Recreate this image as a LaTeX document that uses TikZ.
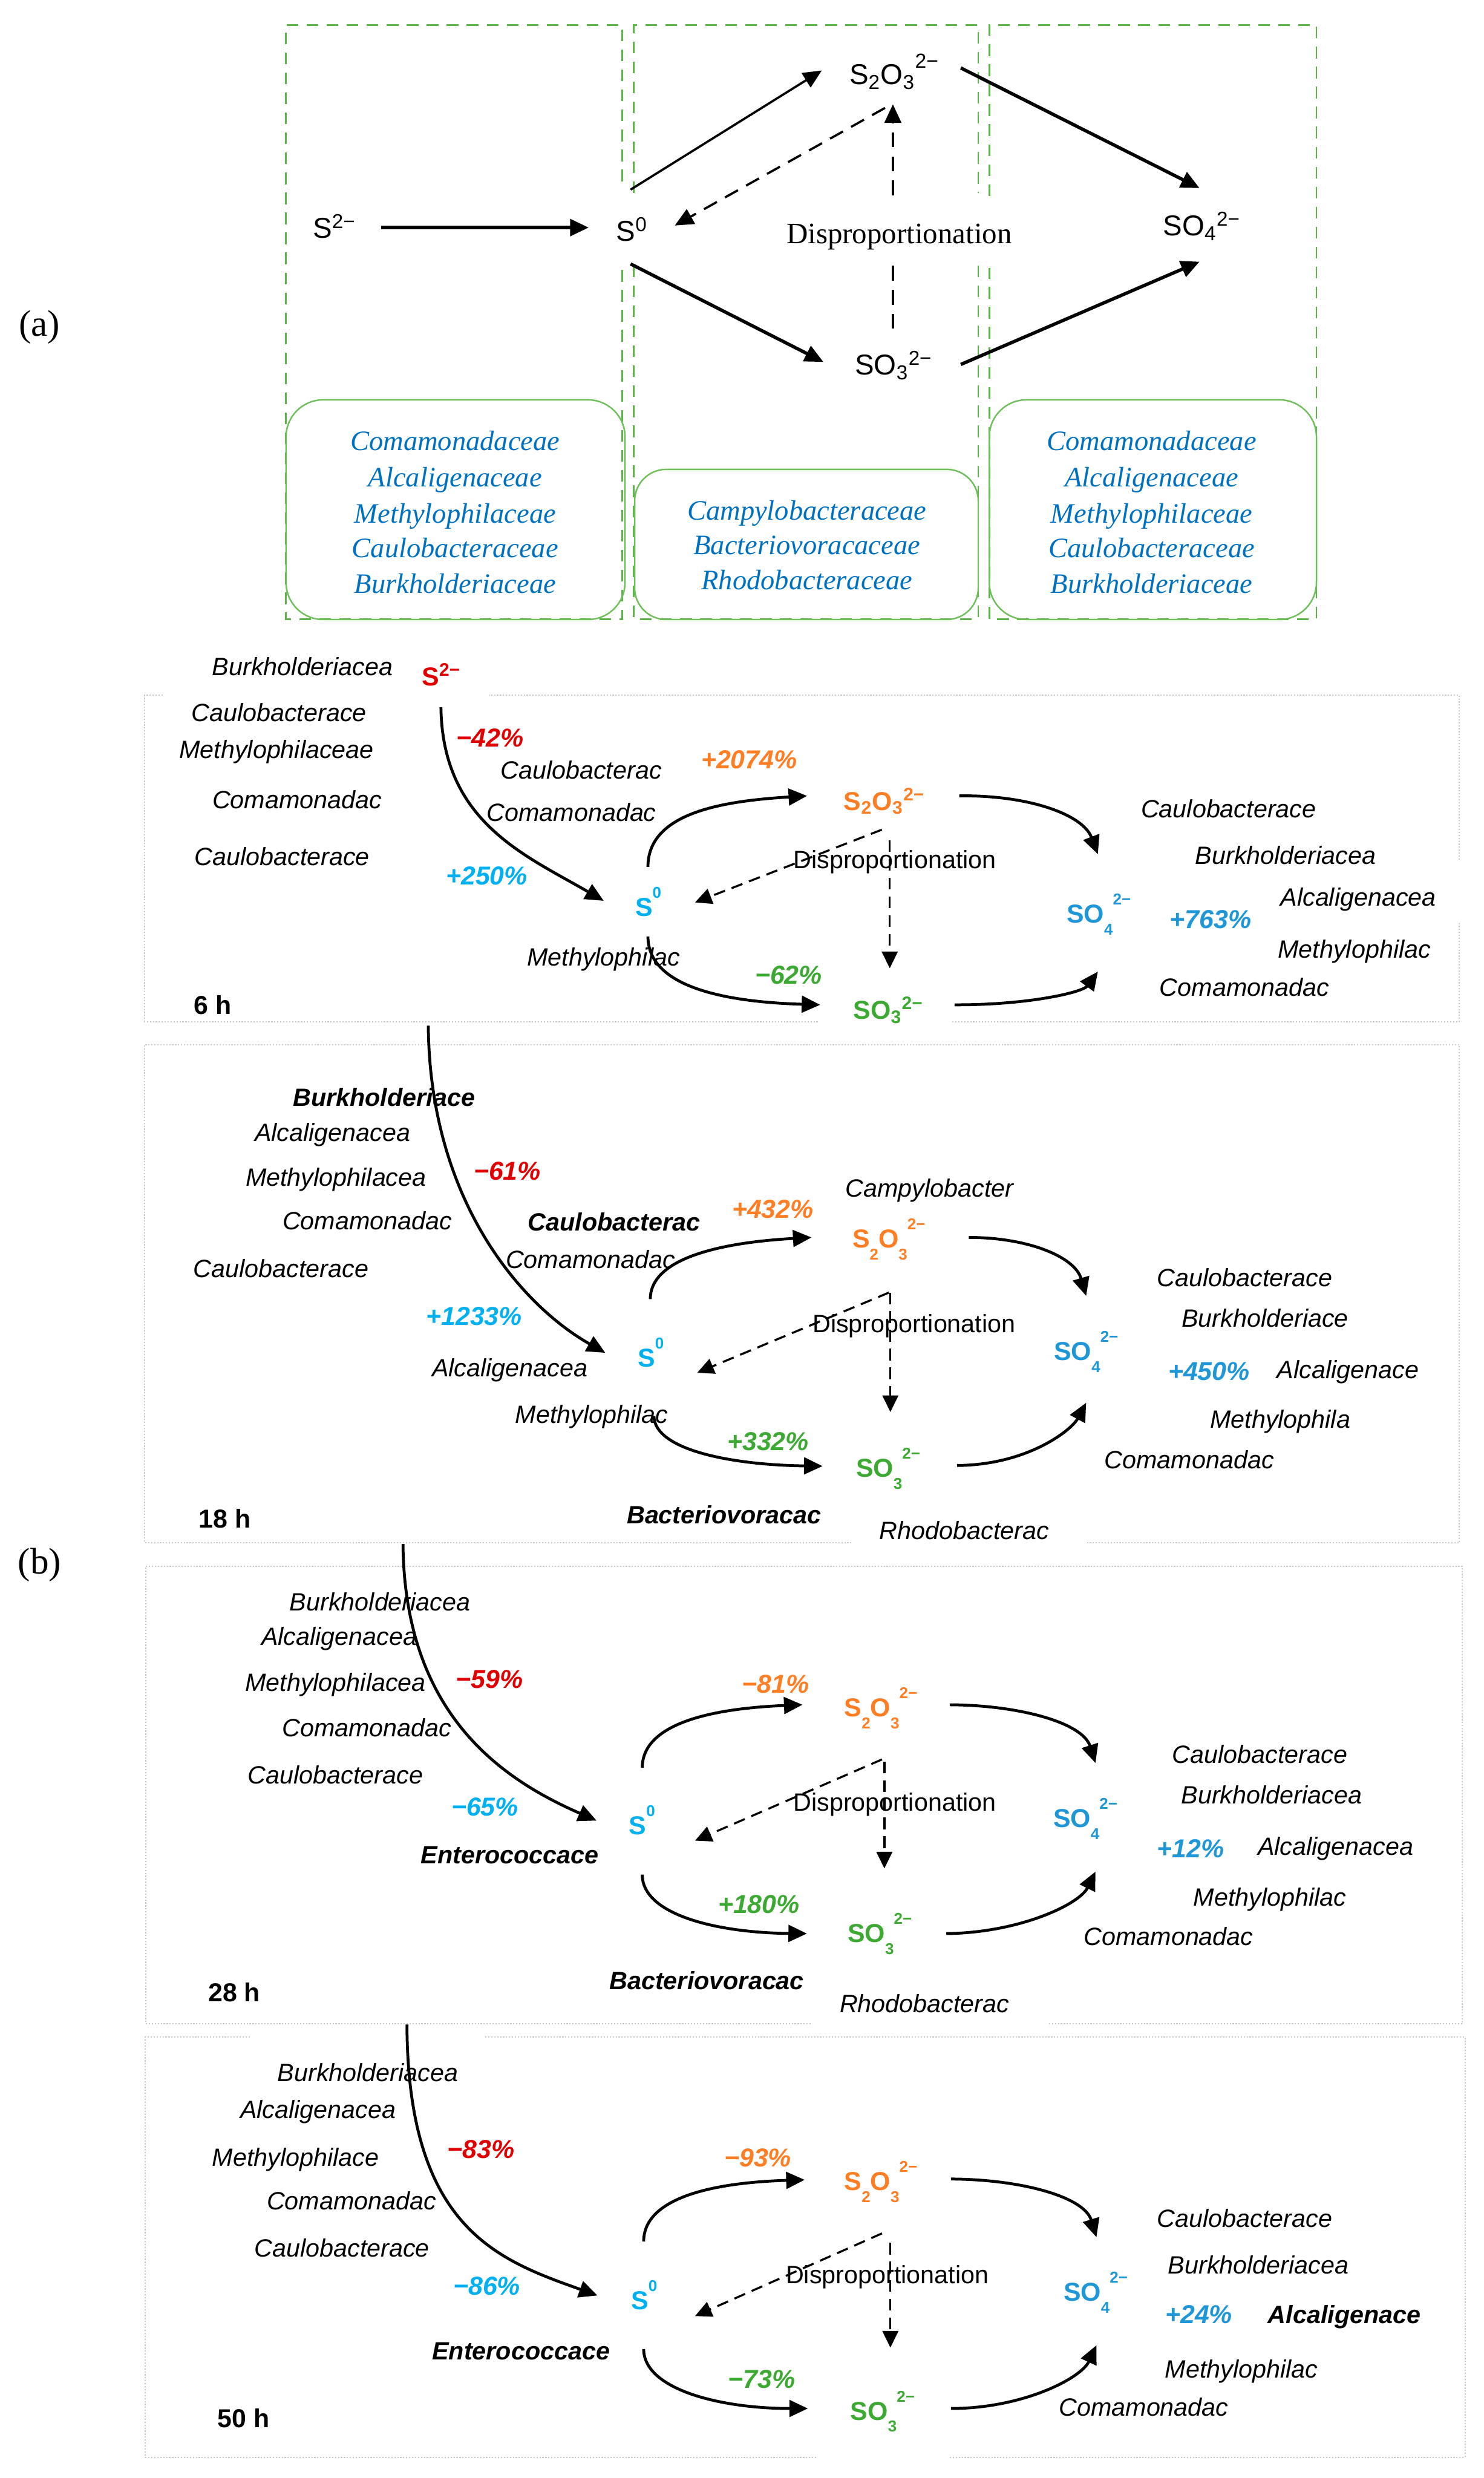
\documentclass[tikz,border=0pt]{standalone}
\usepackage{fontspec}
\setsansfont{Liberation Sans}
\newfontfamily\serifa{Liberation Serif}
\usetikzlibrary{arrows.meta}
\definecolor{cBoxG}{RGB}{92,180,72}
\definecolor{cBoxL}{RGB}{110,190,90}
\definecolor{cFam}{RGB}{0,112,192}
\definecolor{cRed}{RGB}{225,0,0}
\definecolor{cOra}{RGB}{255,125,35}
\definecolor{cCya}{RGB}{0,176,240}
\definecolor{cBlu}{RGB}{30,150,215}
\definecolor{cGre}{RGB}{60,170,50}
\definecolor{cPan}{RGB}{200,200,200}
\newcommand{\chlo}[1]{\raisebox{-6.5pt}{\fontsize{8.5}{9}\selectfont #1}}
\newcommand{\chhi}[1]{\raisebox{9.8pt}{\fontsize{8.5}{9}\selectfont #1}}
\tikzset{
  every node/.style={inner sep=0pt, outer sep=0pt},
  lab/.style={font=\sffamily\itshape\fontsize{13.5}{16}\selectfont, text height=9.7pt, text depth=0pt},
  labb/.style={font=\sffamily\bfseries\itshape\fontsize{13.5}{16}\selectfont, text height=9.7pt, text depth=0pt},
  pct/.style={font=\sffamily\bfseries\itshape\fontsize{14}{16}\selectfont, text height=10pt, text depth=0pt},
  chem/.style={font=\sffamily\bfseries\fontsize{14}{16}\selectfont, text height=10pt, text depth=0pt, anchor=west},
  dispb/.style={font=\sffamily\fontsize{13.5}{16}\selectfont, text height=9.7pt, text depth=0pt},
  hrs/.style={font=\sffamily\bfseries\fontsize{14}{16}\selectfont, text height=10pt, text depth=0pt},
  chema/.style={font=\sffamily\fontsize{15.5}{18}\selectfont, text height=11.1pt, text depth=0pt, anchor=west},
  fam/.style={font=\serifa\itshape\fontsize{15.2}{17}\selectfont, text height=10pt, text depth=0pt, text=cFam},
  dispa/.style={font=\serifa\fontsize{16}{18}\selectfont, text height=10.6pt, text depth=0pt},
  plabel/.style={font=\serifa\fontsize{20}{22}\selectfont, text height=13.2pt, text depth=0pt},
  gbox/.style={draw=cBoxG, line width=0.9pt, dash pattern=on 6.3pt off 4.5pt},
  rbox/.style={draw=cBoxL, line width=0.8pt, rounded corners=20pt},
  panel/.style={draw=cPan, line width=0.7pt, dash pattern=on 0.7pt off 0.9pt},
  arra/.style={line width=1.8pt, -{Triangle[length=10pt,width=9pt]}},
  arrb/.style={line width=1.55pt, -{Triangle[length=10pt,width=9pt]}},
  dsha/.style={line width=1.2pt, dash pattern=on 8pt off 5pt},
  dsh/.style={line width=1.1pt, dash pattern=on 6.3pt off 3.8pt},
}
\begin{document}
\begin{tikzpicture}[x=0.03cm,y=-0.03cm]
\useasboundingbox (0,0) rectangle (939,1568);

% ---------------- (a) ----------------
\node[plabel] (la) at (25,205) {(a)};
\node[plabel] (lb) at (25,988) {(b)};

\draw[gbox] (393.6,114.7) -- (393.6,15.8) -- (181,15.8) -- (181,391.7) -- (393.6,391.7) -- (393.6,166.9);
\draw[gbox] (401,122.3) -- (401,15.8) -- (619,15.8) -- (619,122.3);
\draw[gbox] (401,168) -- (401,391.7) -- (619,391.7) -- (619,166.9);
\draw[gbox] (626,124) -- (626,15.8) -- (833,15.8) -- (833,391.7) -- (626,391.7) -- (626,169.5);

\draw[rbox] (181,253) rectangle (395.5,392);
\draw[rbox, rounded corners=17pt] (401.6,297) rectangle (619,392);
\draw[rbox] (626,253) rectangle (833,392);

\node[fam] (f11) at (288,279) {Comamonadaceae};
\node[fam] (f12) at (288,302) {Alcaligenaceae};
\node[fam] (f13) at (288,325) {Methylophilaceae};
\node[fam] (f14) at (288,347) {Caulobacteraceae};
\node[fam] (f15) at (288,369.5) {Burkholderiaceae};
\node[fam] (f21) at (510.6,323) {Campylobacteraceae};
\node[fam] (f22) at (510.6,345) {Bacteriovoracaceae};
\node[fam] (f23) at (510.6,367) {Rhodobacteraceae};
\node[fam] (f31) at (728.7,279) {Comamonadaceae};
\node[fam] (f32) at (728.7,302) {Alcaligenaceae};
\node[fam] (f33) at (728.7,325) {Methylophilaceae};
\node[fam] (f34) at (728.7,347) {Caulobacteraceae};
\node[fam] (f35) at (728.7,369.5) {Burkholderiaceae};

\node[chema] (aS2) at (198,144) {S\textsuperscript{2−}};
\node[chema] (aS0) at (390,146) {S\textsuperscript{0}};
\node[chema] (aS2O3) at (537.5,47) {S\textsubscript{2}O\textsubscript{3}\raisebox{9pt}{\fontsize{11}{12}\selectfont 2−}};
\node[chema] (aSO3) at (541,230.6) {SO\textsubscript{3}\textsuperscript{2−}};
\node[chema] (aSO4) at (736,142.7) {SO\textsubscript{4}\textsuperscript{2−}};
\node[dispa] (aDisp) at (569,148) {Disproportionation};

\coordinate (a1s) at (241,144);   \coordinate (a1e) at (372.5,144);
\coordinate (a2s) at (399,120);   \coordinate (a2e) at (520,44.6);
\coordinate (a3s) at (399,167);   \coordinate (a3e) at (521,229);
\coordinate (a4s) at (608,43);    \coordinate (a4e) at (759,119);
\coordinate (a5s) at (608,230.6); \coordinate (a5e) at (759,165.6);
\coordinate (a6s) at (565,123.6); \coordinate (a6e) at (565,66);
\coordinate (a7s) at (560,68.3);  \coordinate (a7e) at (427,142.7);
\coordinate (a8s) at (565,208);   \coordinate (a8e) at (565,167);
\draw[arra] (a1s) -- (a1e);
\draw[arra, line width=1.2pt] (a2s) -- (a2e);
\draw[arra] (a3s) -- (a3e);
\draw[arra] (a4s) -- (a4e);
\draw[arra] (a5s) -- (a5e);
\draw[dsha, -{Triangle[length=10pt,width=9pt]}] (a6s) -- (a6e);
\draw[dsha, -{Triangle[length=10pt,width=9pt]}] (a7s) -- (a7e);
\draw[dsha] (a8s) -- (a8e);

% ---------------- panels ----------------
\draw[panel] (103,439.8) -- (91.6,439.8) -- (91.6,646.4) -- (518,646.4);
\draw[panel] (602.6,646.4) -- (923.4,646.4) -- (923.4,584);
\draw[panel] (923.4,544) -- (923.4,439.8) -- (309.5,439.8);
\draw[panel] (538.8,976.3) -- (91.6,976.3) -- (91.6,661) -- (923.4,661) -- (923.4,976.3) -- (687,976.3);
\draw[panel] (513,1280.5) -- (92.2,1280.5) -- (92.2,991) -- (925.4,991) -- (925.4,1280.5) -- (663.6,1280.5);
\draw[panel] (158,1289) -- (92,1289) -- (92,1554.8) -- (516.5,1554.8);
\draw[panel] (601,1554.8) -- (927,1554.8) -- (927,1289) -- (307,1289);

% ---------------- 6 h ----------------
\node[lab] (t6a) at (191.5,421.9) {Burkholderiacea};
\node[lab] (t6b) at (176.5,450.7) {Caulobacterace};
\node[lab] (t6c) at (175,474) {Methylophilaceae};
\node[lab] (t6d) at (188,506) {Comamonadac};
\node[lab] (t6e) at (178.5,542) {Caulobacterace};
\node[lab] (t6f) at (367.7,487) {Caulobacterac};
\node[lab] (t6g) at (361.6,514) {Comamonadac};
\node[lab] (t6h) at (381.9,605.5) {Methylophilac};
\node[lab] (t6i) at (777.4,511.6) {Caulobacterace};
\node[lab] (t6j) at (813.5,541.3) {Burkholderiacea};
\node[lab] (t6k) at (859.5,567.7) {Alcaligenacea};
\node[lab] (t6l) at (857,600.6) {Methylophilac};
\node[lab] (t6m) at (787.4,624.7) {Comamonadac};
\node[hrs] (h6) at (134.7,636) {6 h};
\node[dispb] (d6) at (566.2,543.7) {Disproportionation};

\node[chem, text=cRed] (s2m6) at (267,428) {S\textsuperscript{2−}};
\node[chem, text=cCya] (s06) at (402,574) {S\chhi{0}};
\node[chem, text=cOra] (s2o36) at (534,506.8) {S\textsubscript{2}O\textsubscript{3}\textsuperscript{2−}};
\node[chem, text=cGre] (so36) at (540,639) {SO\textsubscript{3}\textsuperscript{2−}};
\node[chem, text=cBlu] (so46) at (675,578) {SO\chlo{4}\chhi{2−}};

\node[pct, text=cRed] (p6a) at (310,466.7) {−42\%};
\node[pct, text=cOra] (p6b) at (474,480.4) {+2074\%};
\node[pct, text=cCya] (p6c) at (308,554) {+250\%};
\node[pct, text=cGre] (p6d) at (499,616.6) {−62\%};
\node[pct, text=cBlu] (p6e) at (766,581.4) {+763\%};

\coordinate (c6As) at (279,447.5);   \coordinate (c6Ae) at (382,570);
\coordinate (c6Bs) at (410,548.5);   \coordinate (c6Be) at (510.7,503.6);
\coordinate (c6Cs) at (410,592.6);   \coordinate (c6Ce) at (519,635.8);
\coordinate (c6Ds) at (607,503.6);   \coordinate (c6De) at (694.7,540.5);
\coordinate (c6Es) at (604,635.8);   \coordinate (c6Ee) at (694.7,614.8);
\coordinate (c6Fs) at (558,525);     \coordinate (c6Fe) at (439.8,571);
\coordinate (c6Gs) at (563,531.7);   \coordinate (c6Ge) at (563,612.7);
\draw[arrb] (c6As) .. controls (280,520) and (332,541) .. (c6Ae);
\draw[arrb] (c6Bs) .. controls (410,515) and (455,507) .. (c6Be);
\draw[arrb] (c6Cs) .. controls (410,625) and (460,634) .. (c6Ce);
\draw[arrb] (c6Ds) .. controls (650,503) and (685,515) .. (c6De);
\draw[arrb] (c6Es) .. controls (650,636) and (685,628) .. (c6Ee);
\draw[dsh, -{Triangle[length=9pt,width=8.5pt]}] (c6Fs) -- (c6Fe);
\draw[dsh, -{Triangle[length=9pt,width=8.5pt]}] (c6Gs) -- (c6Ge);

% ---------------- 18 h ----------------
\node[labb] (t18a) at (243,694.2) {Burkholderiace};
\node[lab] (t18b) at (210.5,716.4) {Alcaligenacea};
\node[lab] (t18c) at (212.6,745) {Methylophilacea};
\node[lab] (t18d) at (232.4,772.4) {Comamonadac};
\node[lab] (t18e) at (177.8,802.6) {Caulobacterace};
\node[labb] (t18f) at (388.6,773) {Caulobacterac};
\node[lab] (t18g) at (373.7,796.7) {Comamonadac};
\node[lab] (t18h) at (322.6,865.4) {Alcaligenacea};
\node[lab] (t18i) at (374.4,895) {Methylophilac};
\node[labb] (t18j) at (458.2,958.4) {Bacteriovoracac};
\node[lab] (t18k) at (588.2,751.7) {Campylobacter};
\node[lab] (t18l) at (787.7,808.3) {Caulobacterace};
\node[lab] (t18m) at (800.5,834) {Burkholderiace};
\node[lab] (t18n) at (852.9,866.5) {Alcaligenace};
\node[lab] (t18o) at (810.1,898) {Methylophila};
\node[lab] (t18p) at (752.5,923.5) {Comamonadac};
\node[lab] (t18q) at (610.2,968.5) {Rhodobacterac};
\node[hrs] (h18) at (142.3,961) {18 h};
\node[dispb] (d18) at (578.4,837.5) {Disproportionation};

\node[chem, text=cCya] (s018) at (403.6,859) {S\chhi{0}};
\node[chem, text=cOra] (s2o318) at (539.4,783.6) {S\chlo{2}O\chlo{3}\chhi{2−}};
\node[chem, text=cGre] (so318) at (541.7,928.8) {SO\chlo{3}\chhi{2−}};
\node[chem, text=cBlu] (so418) at (667,854.8) {SO\chlo{4}\chhi{2−}};

\node[pct, text=cRed] (p18a) at (321,740.7) {−61\%};
\node[pct, text=cOra] (p18b) at (489,765) {+432\%};
\node[pct, text=cCya] (p18c) at (300,832.6) {+1233\%};
\node[pct, text=cGre] (p18d) at (486,912) {+332\%};
\node[pct, text=cBlu] (p18e) at (765,867.5) {+450\%};

\coordinate (c18As) at (271,649);     \coordinate (c18Ae) at (383,856);
\coordinate (c18Bs) at (411.5,822);   \coordinate (c18Be) at (513.5,783);
\coordinate (c18Cs) at (413.8,896);   \coordinate (c18Ce) at (520.5,927.7);
\coordinate (c18Ds) at (613,783);     \coordinate (c18De) at (687.3,820);
\coordinate (c18Es) at (605.6,927.3); \coordinate (c18Ee) at (687.3,887.6);
\coordinate (c18Fs) at (562.5,817.9); \coordinate (c18Fe) at (441.2,868.6);
\coordinate (c18Gs) at (563.4,817.9); \coordinate (c18Ge) at (563.4,893.5);
\draw[arrb] (c18As) .. controls (272,760) and (330,826) .. (c18Ae);
\draw[arrb] (c18Bs) .. controls (411.5,795) and (460,786) .. (c18Be);
\draw[arrb] (c18Cs) .. controls (414,918) and (465,927) .. (c18Ce);
\draw[arrb] (c18Ds) .. controls (650,783) and (680,795) .. (c18De);
\draw[arrb] (c18Es) .. controls (650,927) and (678,905) .. (c18Ee);
\draw[dsh, -{Triangle[length=9pt,width=8.5pt]}] (c18Fs) -- (c18Fe);
\draw[dsh, -{Triangle[length=9pt,width=8.5pt]}] (c18Gs) -- (c18Ge);

% ---------------- 28 h ----------------
\node[lab] (t28a) at (240.5,1013.6) {Burkholderiacea};
\node[lab] (t28b) at (214.7,1035.2) {Alcaligenacea};
\node[lab] (t28c) at (212.3,1064.6) {Methylophilacea};
\node[lab] (t28d) at (232.1,1093) {Comamonadac};
\node[lab] (t28e) at (212.3,1123.1) {Caulobacterace};
\node[labb] (t28f) at (322.5,1173.5) {Enterococcace};
\node[labb] (t28g) at (447.2,1253) {Bacteriovoracac};
\node[lab] (t28h) at (797.2,1110.1) {Caulobacterace};
\node[lab] (t28i) at (804.6,1135.8) {Burkholderiacea};
\node[lab] (t28j) at (845.2,1168.2) {Alcaligenacea};
\node[lab] (t28k) at (803.6,1200.4) {Methylophilac};
\node[lab] (t28l) at (739.4,1225.1) {Comamonadac};
\node[lab] (t28m) at (585,1267.7) {Rhodobacterac};
\node[hrs] (h28) at (148.2,1260.8) {28 h};
\node[dispb] (d28) at (566.2,1140.1) {Disproportionation};

\node[chem, text=cCya] (s028) at (398,1154.9) {S\chhi{0}};
\node[chem, text=cOra] (s2o328) at (534.3,1080.3) {S\chlo{2}O\chlo{3}\chhi{2−}};
\node[chem, text=cGre] (so328) at (536.4,1223.1) {SO\chlo{3}\chhi{2−}};
\node[chem, text=cBlu] (so428) at (666.5,1150.5) {SO\chlo{4}\chhi{2−}};

\node[pct, text=cRed] (p28a) at (309.6,1062.2) {−59\%};
\node[pct, text=cOra] (p28b) at (490.8,1065.6) {−81\%};
\node[pct, text=cCya] (p28c) at (306.8,1143.1) {−65\%};
\node[pct, text=cGre] (p28d) at (480.2,1204.9) {+180\%};
\node[pct, text=cBlu] (p28e) at (753.5,1169.6) {+12\%};

\coordinate (c28As) at (255,977);      \coordinate (c28Ae) at (377.5,1152);
\coordinate (c28Bs) at (406.4,1118.6); \coordinate (c28Be) at (507.8,1078.7);
\coordinate (c28Cs) at (406.4,1186.2); \coordinate (c28Ce) at (510.6,1223.5);
\coordinate (c28Ds) at (601.1,1078.7); \coordinate (c28De) at (693.2,1115.6);
\coordinate (c28Es) at (598.8,1223.5); \coordinate (c28Ee) at (693.2,1184.3);
\coordinate (c28Fs) at (558.1,1113.3); \coordinate (c28Fe) at (439.8,1164.7);
\coordinate (c28Gs) at (559.6,1114.6); \coordinate (c28Ge) at (559.6,1182.3);
\draw[arrb] (c28As) .. controls (256,1085) and (318,1126) .. (c28Ae);
\draw[arrb] (c28Bs) .. controls (406.4,1090) and (452,1081) .. (c28Be);
\draw[arrb] (c28Cs) .. controls (406.4,1212) and (455,1223) .. (c28Ce);
\draw[arrb] (c28Ds) .. controls (645,1079) and (685,1090) .. (c28De);
\draw[arrb] (c28Es) .. controls (645,1223) and (683,1205) .. (c28Ee);
\draw[dsh, -{Triangle[length=9pt,width=8.5pt]}] (c28Fs) -- (c28Fe);
\draw[dsh, -{Triangle[length=9pt,width=8.5pt]}] (c28Gs) -- (c28Ge);

% ---------------- 50 h ----------------
\node[lab] (t50a) at (232.8,1311.2) {Burkholderiacea};
\node[lab] (t50b) at (201.3,1334.8) {Alcaligenacea};
\node[lab] (t50c) at (187.1,1364.8) {Methylophilace};
\node[lab] (t50d) at (222.5,1392.5) {Comamonadac};
\node[lab] (t50e) at (216.4,1422.3) {Caulobacterace};
\node[labb] (t50f) at (329.7,1487.3) {Enterococcace};
\node[lab] (t50g) at (787.7,1403.8) {Caulobacterace};
\node[lab] (t50h) at (796.3,1433.2) {Burkholderiacea};
\node[labb] (t50i) at (850.7,1464.6) {Alcaligenace};
\node[lab] (t50j) at (785.5,1499.1) {Methylophilac};
\node[lab] (t50k) at (723.7,1523.2) {Comamonadac};
\node[hrs] (h50) at (154.2,1530) {50 h};
\node[dispb] (d50) at (561.5,1439.2) {Disproportionation};

\node[chem, text=cCya] (s050) at (399.4,1455.5) {S\chhi{0}};
\node[chem, text=cOra] (s2o350) at (534.3,1380.2) {S\chlo{2}O\chlo{3}\chhi{2−}};
\node[chem, text=cGre] (so350) at (538.2,1525.4) {SO\chlo{3}\chhi{2−}};
\node[chem, text=cBlu] (so450) at (673,1450.1) {SO\chlo{4}\chhi{2−}};

\node[pct, text=cRed] (p50a) at (304.4,1359.9) {−83\%};
\node[pct, text=cOra] (p50b) at (479.5,1365.3) {−93\%};
\node[pct, text=cCya] (p50c) at (308,1446.5) {−86\%};
\node[pct, text=cGre] (p50d) at (481.9,1505.1) {−73\%};
\node[pct, text=cBlu] (p50e) at (758.6,1464.2) {+24\%};

\coordinate (c50As) at (257.5,1281);   \coordinate (c50Ae) at (378.1,1452.5);
\coordinate (c50Bs) at (407.3,1418.3); \coordinate (c50Be) at (509.2,1379.3);
\coordinate (c50Cs) at (407.3,1486.4); \coordinate (c50Ce) at (511.2,1524);
\coordinate (c50Ds) at (601.7,1378.8); \coordinate (c50De) at (693.8,1415.6);
\coordinate (c50Es) at (601.7,1524);   \coordinate (c50Ee) at (693.8,1484);
\coordinate (c50Fs) at (558.1,1413.2); \coordinate (c50Fe) at (439.8,1465.5);
\coordinate (c50Gs) at (563.4,1419.2); \coordinate (c50Ge) at (563.4,1485.5);
\draw[arrb] (c50As) .. controls (258,1410) and (315,1430) .. (c50Ae);
\draw[arrb] (c50Bs) .. controls (407.3,1390) and (453,1381) .. (c50Be);
\draw[arrb] (c50Cs) .. controls (407.3,1512) and (456,1524) .. (c50Ce);
\draw[arrb] (c50Ds) .. controls (646,1379) and (686,1390) .. (c50De);
\draw[arrb] (c50Es) .. controls (647,1524) and (684,1505) .. (c50Ee);
\draw[dsh, -{Triangle[length=9pt,width=8.5pt]}] (c50Fs) -- (c50Fe);
\draw[dsh, -{Triangle[length=9pt,width=8.5pt]}] (c50Gs) -- (c50Ge);
\end{tikzpicture}
\end{document}
